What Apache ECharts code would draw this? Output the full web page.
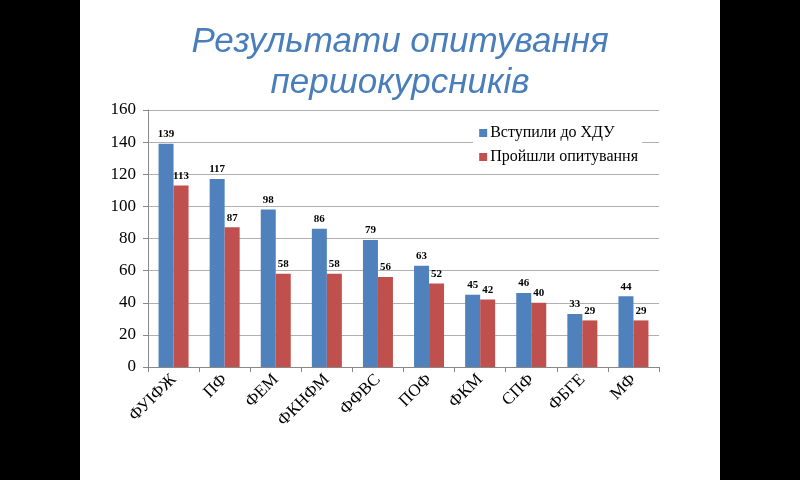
<!DOCTYPE html>
<html>
<head>
<meta charset="utf-8">
<script src="https://cdn.jsdelivr.net/npm/echarts@6/dist/echarts.min.js"></script>
<style>
  html, body { margin: 0; padding: 0; background: #000; }
  #chart { position: absolute; left: 80px; top: 0; width: 640px; height: 480px; background: #fff; }
</style>
</head>
<body>
<div id="chart"></div>
<script>
// факультети
const faculties = ['ФУІФЖ', 'ПФ', 'ФЕМ', 'ФКНФМ', 'ФФВС', 'ПОФ', 'ФКМ', 'СПФ', 'ФБГЕ', 'МФ'];
const enrolled = [139, 117, 98, 86, 79, 63, 45, 46, 33, 44];
const surveyed = [113, 87, 58, 58, 56, 52, 42, 40, 29, 29];
const yTicks = { min: 0, max: 160, interval: 20 };

const serif = '"Liberation Serif", "Times New Roman", serif';

const chart = echarts.init(document.getElementById('chart'));

// підпис над стовпчиком
const labelStyle = {
  show: true,
  position: 'top',
  distance: 4,
  color: '#000',
  fontFamily: serif,
  fontWeight: 'bold',
  fontSize: 11
};

chart.setOption({
  animation: false,
  title: {
    text: 'Результати опитування\nпершокурсників',
    left: 'center',
    top: 17,
    textStyle: {
      fontFamily: '"Liberation Sans", Arial, sans-serif',
      fontStyle: 'italic',
      fontWeight: 'normal',
      fontSize: 35,
      lineHeight: 41,
      color: '#4A7EBB'
    }
  },
  legend: {
    orient: 'vertical',
    right: 78,
    top: 121,
    itemWidth: 8,
    itemHeight: 8,
    itemGap: 8,
    icon: 'rect',
    backgroundColor: '#fff',
    padding: [4, 4, 4, 6],
    textStyle: { fontFamily: serif, fontSize: 16, color: '#000', padding: [0, 0, 0, -2] }
  },
  grid: { left: 68, right: 61, top: 110, bottom: 113 },
  xAxis: {
    type: 'category',
    data: faculties,
    axisLine: { lineStyle: { color: '#888' } },
    axisTick: { show: true, length: 5, lineStyle: { color: '#888' } },
    axisLabel: {
      rotate: 45,
      margin: 10,
      color: '#000',
      fontFamily: serif,
      fontSize: 17,
      interval: 0
    }
  },
  yAxis: {
    type: 'value',
    min: yTicks.min,
    max: yTicks.max,
    interval: yTicks.interval,
    axisLine: { show: true, lineStyle: { color: '#888' } },
    axisTick: { show: true, length: 5, lineStyle: { color: '#888' } },
    splitLine: { lineStyle: { color: '#b0b0b0' } },
    axisLabel: { color: '#000', fontFamily: serif, fontSize: 17, margin: 12 }
  },
  series: [
    {
      name: 'Вступили до ХДУ',
      type: 'bar',
      data: enrolled,
      barWidth: 15,
      barGap: '0%',
      itemStyle: { color: '#4F81BD' },
      label: labelStyle
    },
    {
      name: 'Пройшли опитування',
      type: 'bar',
      data: surveyed,
      barWidth: 15,
      itemStyle: { color: '#C0504D' },
      label: labelStyle
    }
  ]
});
</script>
</body>
</html>
